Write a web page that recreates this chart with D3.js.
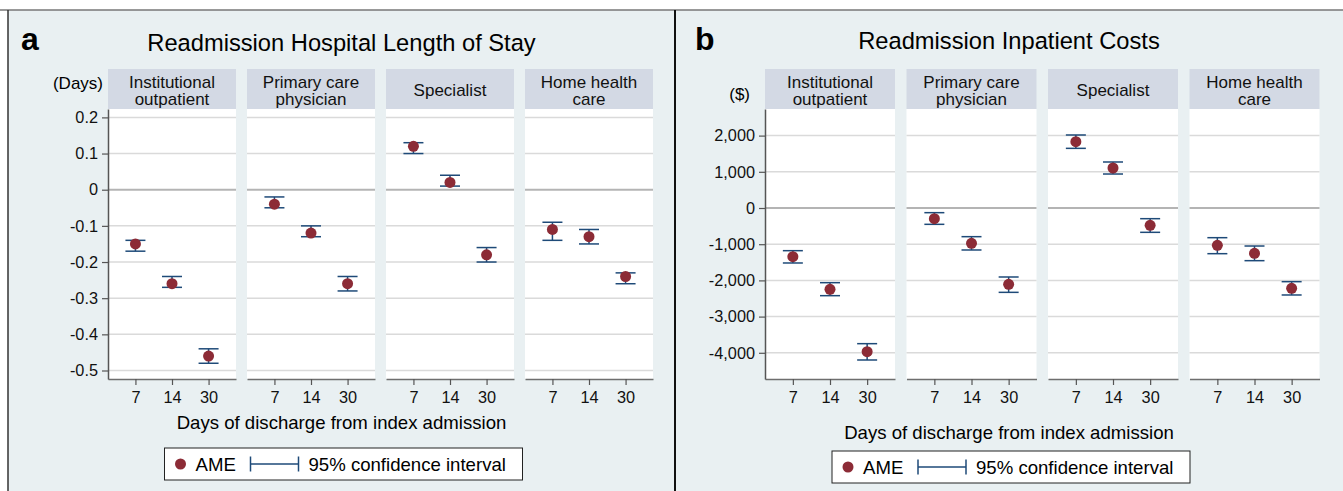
<!DOCTYPE html>
<html>
<head>
<meta charset="utf-8">
<script src="https://cdn.jsdelivr.net/npm/d3@7"></script>
<style>
  body { margin: 0; background: #fff; }
  svg { display: block; font-family: "Liberation Sans", Arial, sans-serif; }
</style>
</head>
<body>
<svg id="chart" width="1343" height="491"></svg>
<script>
// data
const categories = [["Institutional", "outpatient"], ["Primary care", "physician"], ["Specialist"], ["Home health", "care"]];
const days = ["7", "14", "30"];

// (a) readmission length of stay, days
const losAME = [[-0.15, -0.26, -0.46], [-0.04, -0.12, -0.26], [0.12, 0.02, -0.18], [-0.11, -0.13, -0.24]];
const losLo  = [[-0.17, -0.27, -0.48], [-0.05, -0.13, -0.28], [0.10, 0.01, -0.20], [-0.14, -0.15, -0.26]];
const losHi  = [[-0.14, -0.24, -0.44], [-0.02, -0.10, -0.24], [0.13, 0.04, -0.16], [-0.09, -0.11, -0.23]];
const losTicks = [0.2, 0.1, 0, -0.1, -0.2, -0.3, -0.4, -0.5];

// (b) readmission inpatient costs, $
const costAME = [[-1344, -2247, -3969], [-295, -976, -2109], [1832, 1105, -479], [-1031, -1252, -2219]];
const costLo  = [[-1519, -2422, -4199], [-451, -1160, -2330], [1648, 939, -672], [-1262, -1455, -2403]];
const costHi  = [[-1179, -2063, -3748], [-129, -792, -1906], [2017, 1271, -295], [-820, -1050, -2035]];
const costTicks = [2000, 1000, 0, -1000, -2000, -3000, -4000];

const svg = d3.select("#chart");
const bg = "#e9f0f2", stripFill = "#d3d9e4", dotColor = "#8c2b36", ciColor = "#1e4a78";
const tickFont = 16.3, stripFont = 17, labelFont = 18.6, titleFont = 23.7;

function drawPanel(opts) {
    const g = svg.append("g");

    g.append("rect")
        .attr("x", opts.x0).attr("y", 10)
        .attr("width", opts.x1 - opts.x0).attr("height", 481)
        .attr("fill", bg);

    const cx = (opts.x0 + opts.x1) / 2;

    g.append("text")
        .attr("x", opts.letterX).attr("y", 50)
        .attr("font-size", 32).attr("font-weight", "bold")
        .text(opts.letter);

    g.append("text")
        .attr("x", cx).attr("y", opts.titleY)
        .attr("text-anchor", "middle").attr("font-size", titleFont)
        .text(opts.title);

    const top = 109, bottom = opts.bottom;
    const y = d3.scaleLinear().domain(opts.yDomain).range([bottom, top]);

    categories.forEach((cat, i) => {
        const fx = opts.facetX + i * opts.facetStep;
        const w = opts.facetW;
        const x = d3.scalePoint().domain(days).range([0, w]).padding(0.75);
        const f = g.append("g").attr("transform", `translate(${fx},0)`);

        // strip
        f.append("rect")
            .attr("x", 0).attr("y", 69)
            .attr("width", w).attr("height", top - 69)
            .attr("fill", stripFill);
        const st = f.append("text")
            .attr("text-anchor", "middle").attr("font-size", stripFont)
            .attr("fill", "#111");
        cat.forEach((line, k) => {
            st.append("tspan")
                .attr("x", w / 2)
                .attr("y", cat.length === 1 ? 96 : 88 + k * 16.5)
                .text(line);
        });

        // plot area + gridlines
        f.append("rect")
            .attr("x", 0).attr("y", top)
            .attr("width", w).attr("height", bottom - top)
            .attr("fill", "#fff");
        f.selectAll("line.grid")
            .data(opts.ticks).enter()
            .append("line")
                .attr("x1", 0).attr("x2", w)
                .attr("y1", d => y(d)).attr("y2", d => y(d))
                .attr("stroke", d => d === 0 ? "#b4b4b4" : "#dadada")
                .attr("stroke-width", d => d === 0 ? 2 : 1.5);

        // x axis
        const xa = f.append("g")
            .attr("transform", `translate(0,${bottom})`)
            .call(d3.axisBottom(x).tickSize(6).tickSizeOuter(0));
        xa.select(".domain").attr("stroke", "#6e6e6e").attr("stroke-width", 1.5);
        xa.selectAll(".tick line").attr("stroke", "#555").attr("stroke-width", 1.2);
        xa.selectAll(".tick text")
            .attr("font-size", tickFont).attr("fill", "#111")
            .attr("font-family", "Liberation Sans, Arial, sans-serif")
            .attr("dy", 14.5);

        // y axis on first facet
        if (i === 0) {
            const ya = f.append("g")
                .call(d3.axisLeft(y).tickValues(opts.ticks).tickFormat(opts.fmt).tickSize(6).tickSizeOuter(0));
            ya.select(".domain").attr("stroke", "#555").attr("stroke-width", 1.5);
            ya.selectAll(".tick line").attr("stroke", "#555").attr("stroke-width", 1.2);
            ya.selectAll(".tick text")
                .attr("font-size", tickFont).attr("fill", "#111")
                .attr("font-family", "Liberation Sans, Arial, sans-serif")
                .attr("x", -10);
        }

        // confidence intervals
        const ci = f.append("g").attr("stroke", ciColor).attr("stroke-width", 1.5);
        days.forEach((d, j) => {
            const px = x(d);
            ci.append("line")
                .attr("x1", px).attr("x2", px)
                .attr("y1", y(opts.lo[i][j])).attr("y2", y(opts.hi[i][j]));
            [opts.lo[i][j], opts.hi[i][j]].forEach(v => {
                ci.append("line")
                    .attr("x1", px - 10).attr("x2", px + 10)
                    .attr("y1", y(v)).attr("y2", y(v));
            });
        });

        // point estimates
        f.selectAll("circle.ame")
            .data(days).enter()
            .append("circle")
                .attr("cx", d => x(d))
                .attr("cy", (d, j) => y(opts.ame[i][j]))
                .attr("r", 5.5)
                .attr("fill", dotColor);
    });

    // y unit label
    g.append("text")
        .attr("x", opts.unitX).attr("y", opts.unitY)
        .attr("text-anchor", "end").attr("font-size", stripFont)
        .text(opts.unit);

    // x axis title
    g.append("text")
        .attr("x", cx).attr("y", opts.xTitleY)
        .attr("text-anchor", "middle").attr("font-size", labelFont)
        .text("Days of discharge from index admission");

    // legend
    const lw = 358, lh = 32;
    const lg = g.append("g").attr("transform", `translate(${cx - lw / 2 + 2},${opts.legendY})`);
    lg.append("rect")
        .attr("width", lw).attr("height", lh)
        .attr("fill", "#fff").attr("stroke", "#222").attr("stroke-width", 1);
    lg.append("circle").attr("cx", 16).attr("cy", lh / 2).attr("r", 5.5).attr("fill", dotColor);
    lg.append("text").attr("x", 31).attr("y", lh / 2 + 7).attr("font-size", labelFont).text("AME");
    const l = lg.append("g").attr("stroke", ciColor).attr("stroke-width", 1.5);
    l.append("line").attr("x1", 86).attr("x2", 134).attr("y1", lh / 2).attr("y2", lh / 2);
    l.append("line").attr("x1", 86).attr("x2", 86).attr("y1", lh / 2 - 7.5).attr("y2", lh / 2 + 7.5);
    l.append("line").attr("x1", 134).attr("x2", 134).attr("y1", lh / 2 - 7.5).attr("y2", lh / 2 + 7.5);
    lg.append("text").attr("x", 144).attr("y", lh / 2 + 7).attr("font-size", labelFont).text("95% confidence interval");
}

drawPanel({
    x0: 8, x1: 675, letter: "a", letterX: 21, title: "Readmission Hospital Length of Stay", titleY: 51,
    facetX: 108, facetStep: 139, facetW: 128, bottom: 379,
    yDomain: [-0.5235, 0.2232], ticks: losTicks,
    fmt: d => d === 0 ? "0" : d.toFixed(1),
    ame: losAME, lo: losLo, hi: losHi,
    unit: "(Days)", unitX: 103, unitY: 89,
    xTitleY: 429, legendY: 448
});

drawPanel({
    x0: 675, x1: 1343, letter: "b", letterX: 695, title: "Readmission Inpatient Costs", titleY: 49,
    facetX: 765, facetStep: 141.5, facetW: 130, bottom: 379,
    yDomain: [-4724, 2735], ticks: costTicks,
    fmt: d => (d < 0 ? "-" : "") + d3.format(",")(Math.abs(d)),
    ame: costAME, lo: costLo, hi: costHi,
    unit: "($)", unitX: 750, unitY: 100,
    xTitleY: 439, legendY: 451
});

// borders
svg.append("line").attr("x1", 0).attr("x2", 1343).attr("y1", 10).attr("y2", 10)
    .attr("stroke", "#777").attr("stroke-width", 1.5);
svg.append("line").attr("x1", 8).attr("x2", 8).attr("y1", 10).attr("y2", 491)
    .attr("stroke", "#333").attr("stroke-width", 1.5);
svg.append("line").attr("x1", 675).attr("x2", 675).attr("y1", 10).attr("y2", 491)
    .attr("stroke", "#111").attr("stroke-width", 2);
</script>
</body>
</html>
